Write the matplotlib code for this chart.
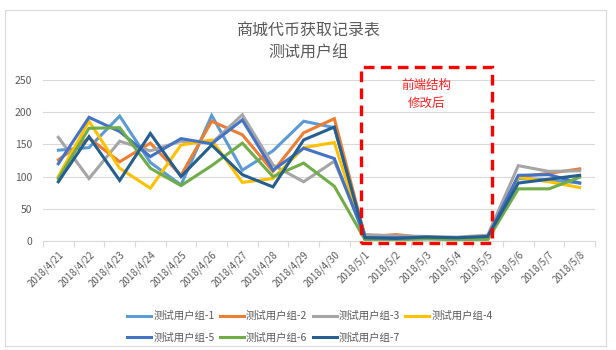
import matplotlib
matplotlib.use("Agg")
import matplotlib.pyplot as plt
from matplotlib.patches import Rectangle

plt.rcParams['font.family'] = ['Noto Sans CJK SC', 'DejaVu Sans']

# Dates on the category axis
dates = ["2018/4/21", "2018/4/22", "2018/4/23", "2018/4/24", "2018/4/25", "2018/4/26",
         "2018/4/27", "2018/4/28", "2018/4/29", "2018/4/30", "2018/5/1", "2018/5/2",
         "2018/5/3", "2018/5/4", "2018/5/5", "2018/5/6", "2018/5/7", "2018/5/8"]

# Tokens obtained per user group per day
group_1 = [141, 145, 194, 122, 87, 195, 110, 140, 186, 176, 8, 6, 6, 5, 7, 97, 95, 90]
group_2 = [126, 160, 123, 152, 102, 186, 165, 108, 168, 190, 6, 10, 5, 4, 5, 100, 105, 112]
group_3 = [161, 97, 155, 140, 155, 152, 196, 118, 92, 124, 10, 8, 7, 6, 9, 117, 108, 109]
group_4 = [100, 186, 113, 82, 149, 157, 91, 97, 145, 153, 3, 2, 4, 3, 2, 99, 92, 83]
group_5 = [120, 192, 170, 131, 159, 151, 188, 110, 144, 128, 5, 5, 6, 4, 6, 102, 103, 90]
group_6 = [97, 175, 176, 113, 86, 117, 152, 100, 121, 85, 2, 2, 3, 2, 2, 81, 81, 99]
group_7 = [92, 162, 94, 167, 100, 149, 103, 84, 157, 177, 5, 4, 6, 5, 7, 90, 96, 102]

series = [group_1, group_2, group_3, group_4, group_5, group_6, group_7]
labels = ["测试用户组-1", "测试用户组-2", "测试用户组-3", "测试用户组-4",
          "测试用户组-5", "测试用户组-6", "测试用户组-7"]
colors = ["#5B9BD5", "#ED7D31", "#A5A5A5", "#FFC000", "#4472C4", "#70AD47", "#255E91"]

y_ticks = [0, 50, 100, 150, 200, 250]

# Highlighted period (category index range) and its note
box_start, box_end = 9.86, 14.15
box_low, box_high = -2.6, 270
note = "前端结构\n修改后"

W, H = 616, 350
fig = plt.figure(figsize=(W / 100, H / 100), dpi=100)
ax = fig.add_axes([43 / W, 1 - 241 / H, (595 - 43) / W, (241 - 80) / H])

x = list(range(len(dates)))
handles = []
for vals, lab, col in zip(series, labels, colors):
    h, = ax.plot(x, vals, color=col, lw=2.2, label=lab, solid_joinstyle='miter')
    handles.append(h)

ax.set_xlim(-0.5, len(dates) - 0.5)
ax.set_ylim(0, 250)
ax.set_yticks(y_ticks)
ax.set_yticklabels([str(v) for v in y_ticks])
ax.yaxis.grid(True, color="#D9D9D9", lw=0.8)
ax.set_axisbelow(True)
ax.tick_params(axis='y', length=0, labelsize=7.5, labelcolor="#595959", pad=8)

# category tick marks sit between the dates, labels under each date
ax.set_xticks([i - 0.5 for i in range(len(dates) + 1)], minor=False)
ax.set_xticklabels([""] * (len(dates) + 1))
ax.set_xticks(x, minor=True)
ax.set_xticklabels(dates, minor=True, rotation=45, ha='right', va='top',
                   rotation_mode='anchor')
ax.tick_params(axis='x', which='major', length=4, color="#D9D9D9", direction='out')
ax.tick_params(axis='x', which='minor', length=0, labelsize=7,
               labelcolor="#595959", pad=6)

for s in ["top", "right", "left"]:
    ax.spines[s].set_visible(False)
ax.spines["bottom"].set_color("#D9D9D9")
ax.spines["bottom"].set_linewidth(0.8)

rect = Rectangle((box_start, box_low), box_end - box_start, box_high - box_low,
                 fill=False, edgecolor="#FF0000", lw=2.4,
                 linestyle=(0, (3.2, 1.9)), clip_on=False, zorder=5)
ax.add_patch(rect)
ax.text(12, 228, note, color="#FF2020", fontsize=9, ha='center', va='center',
        linespacing=1.45)

fig.text(308 / W, 1 - 31 / H, "商城代币获取记录表", ha='center', va='center',
         fontsize=11.5, color="#595959")
fig.text(308 / W, 1 - 53 / H, "测试用户组", ha='center', va='center',
         fontsize=11.5, color="#595959")

# legend filled row by row: 1-4 on top, 5-7 below
order = [0, 4, 1, 5, 2, 6, 3]
leg = fig.legend([handles[i] for i in order], [labels[i] for i in order],
                 loc='center', bbox_to_anchor=(310 / W, 1 - 327 / H), ncol=4,
                 frameon=False, fontsize=7.5, handlelength=2.3, handletextpad=0.2,
                 columnspacing=0.5, labelspacing=1.1)
for t in leg.get_texts():
    t.set_color("#595959")

# chart area border
fig.add_artist(Rectangle((5 / W, 1 - 346 / H), (606 - 5) / W, (346 - 10) / H,
                         transform=fig.transFigure, fill=False,
                         edgecolor="#D9D9D9", lw=0.8))

fig.savefig("out.png", dpi=100)
